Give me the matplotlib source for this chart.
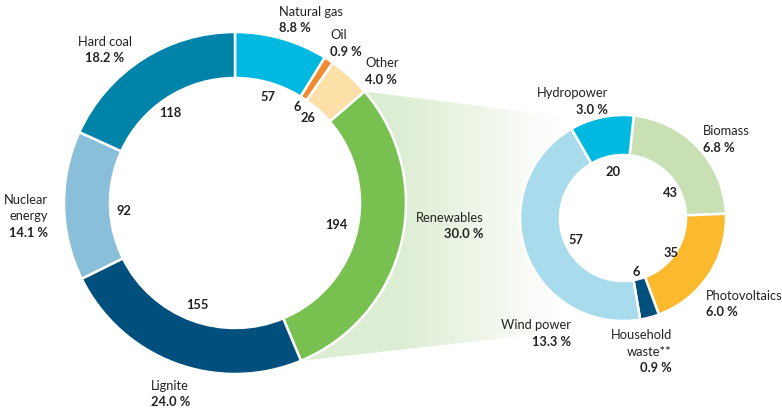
import matplotlib.pyplot as plt
import numpy as np
from matplotlib.patches import Polygon

plt.rcParams['font.family'] = ['Lato', 'DejaVu Sans']

# gross electricity generation, TWh and share of total
sources = ['Natural gas', 'Oil', 'Other', 'Renewables', 'Lignite', 'Nuclear\nenergy', 'Hard coal']
twh = [57, 6, 26, 194, 155, 92, 118]
shares = [8.8, 0.9, 4.0, 30.0, 24.0, 14.1, 18.2]
colors = ['#00b9e0', '#f28a30', '#fde0a8', '#78c050', '#004f7c', '#8abfd9', '#0083a9']

ren_sources = ['Biomass', 'Photovoltaics', 'Household\nwaste**', 'Wind power', 'Hydropower']
ren_twh = [43, 35, 6, 57, 20]
ren_shares = [6.8, 6.0, 0.9, 13.3, 3.0]
ren_colors = ['#c8e0b4', '#fbb92e', '#004f7c', '#a8dcec', '#00b9e0']

W, H = 782, 413


def fy(y):
    return H - y


# layout (pixel positions, y down) for name labels: x, y of first line, ha
name_pos = [(279, 12, 'left'), (330, 35, 'left'), (365, 63, 'left'), (484, 218, 'right'),
            (151, 386, 'left'), (48, 200, 'right'), (105, 42, 'center')]
ren_name_pos = [(703, 131, 'left'), (706, 296, 'left'), (672, 335, 'right'),
                (571, 325, 'right'), (608, 93, 'right')]
value_pos = [(268, 97), (297, 107), (308, 118), (336, 225), (197, 305), (124, 211), (170, 113)]
ren_value_pos = [(670, 193), (671, 253), (636, 272), (576, 240), (613, 172)]

fig = plt.figure(figsize=(W / 100, H / 100), dpi=100)
ax = fig.add_axes([0, 0, 1, 1])

c_main, r_main = (235, fy(203)), 171
c_ren, r_ren = (623, fy(218)), 103

wedges, _ = ax.pie(shares, colors=colors, startangle=90, counterclock=False,
                   radius=r_main, center=c_main,
                   wedgeprops=dict(width=46, edgecolor='white', linewidth=1.8))
ax.pie(ren_shares, colors=ren_colors, startangle=84, counterclock=False,
       radius=r_ren, center=c_ren,
       wedgeprops=dict(width=40, edgecolor='white', linewidth=1.8))

# fan from renewables wedge to the breakdown donut
ren = wedges[sources.index('Renewables')]
th = np.radians(np.linspace(ren.theta1, ren.theta2, 60))
arc = np.column_stack([c_main[0] + r_main * np.cos(th), c_main[1] + r_main * np.sin(th)])
poly = np.vstack([arc, [[623, fy(124)], [623, fy(325)]]])
fan = Polygon(poly, closed=True, facecolor='none', edgecolor='none')
ax.add_patch(fan)
xs = np.linspace(300, 623, 400)
alpha = np.clip((560 - xs) / (560 - 400), 0, 1)
grad = np.zeros((1, len(xs), 4))
grad[..., 0], grad[..., 1], grad[..., 2] = 0.87, 0.93, 0.83
grad[..., 3] = alpha
im = ax.imshow(grad, extent=[300, 623, fy(365), fy(88)], aspect='auto', zorder=0.5)
im.set_clip_path(fan)
for w in ax.patches:
    if w is not fan:
        w.set_zorder(1)

lh = 16.5
fs = 9.3


def name_label(name, pct, x, y, ha):
    lines = name.split('\n')
    for i, line in enumerate(lines):
        ax.text(x, fy(y + i * lh), line, ha=ha, va='center', fontsize=fs, color='#222222')
    ax.text(x, fy(y + len(lines) * lh), f'{pct:.1f} %', ha=ha, va='center',
            fontsize=fs, fontweight='bold', color='#222222')


for name, pct, (x, y, ha) in zip(sources, shares, name_pos):
    name_label(name, pct, x, y, ha)
for name, pct, (x, y, ha) in zip(ren_sources, ren_shares, ren_name_pos):
    name_label(name, pct, x, y, ha)

for v, (x, y) in zip(twh, value_pos):
    ax.text(x, fy(y), str(v), ha='center', va='center', fontsize=fs, fontweight='bold', color='#222222')
for v, (x, y) in zip(ren_twh, ren_value_pos):
    ax.text(x, fy(y), str(v), ha='center', va='center', fontsize=fs, fontweight='bold', color='#222222')

ax.set_xlim(0, W)
ax.set_ylim(0, H)
ax.set_aspect('equal')
ax.axis('off')
fig.savefig('out.png', dpi=100)
